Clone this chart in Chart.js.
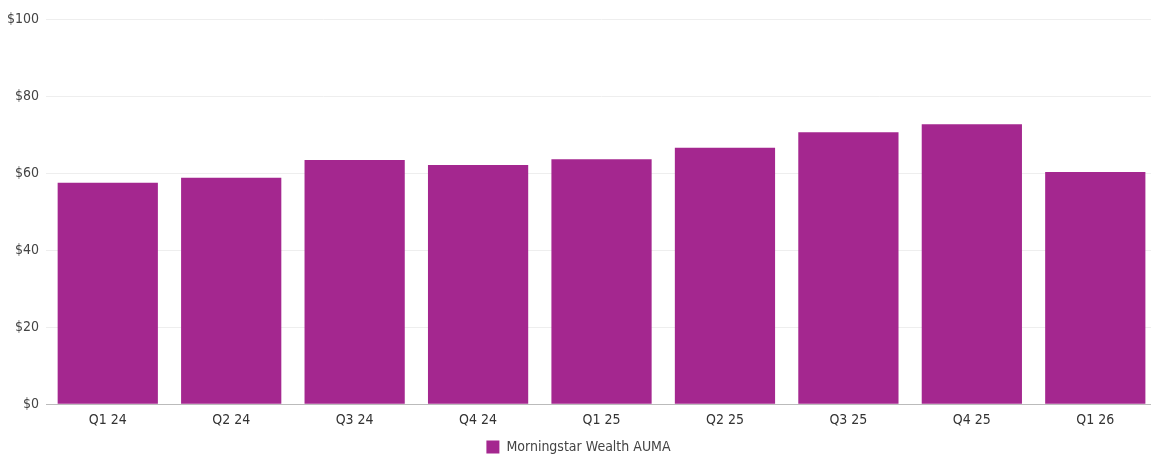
<!DOCTYPE html>
<html>
<head>
<meta charset="utf-8">
<script src="https://cdn.jsdelivr.net/npm/chart.js@4"></script>
<style>
  html, body { margin: 0; padding: 0; background: #fff; overflow: hidden; }
  .wrap { width: 1157px; height: 464px; }
</style>
</head>
<body>
<div class="wrap"><canvas id="barChart"></canvas></div>
<script>
// AUMA per quarter, $ billions
const quarters = ["Q1 24", "Q2 24", "Q3 24", "Q4 24", "Q1 25", "Q2 25", "Q3 25", "Q4 25", "Q1 26"];
const aumaValues = [57.5, 58.8, 63.4, 62.1, 63.6, 66.6, 70.6, 72.7, 60.3];
const yTicks = [0, 20, 40, 60, 80, 100];

const FONT = "'Liberation Sans Narrow', 'DejaVu Sans Condensed', 'Roboto', sans-serif";

new Chart(document.getElementById("barChart"), {
  type: "bar",
  data: {
    labels: quarters,
    datasets: [
      {
        label: "Morningstar Wealth AUMA",
        data: aumaValues,
        backgroundColor: "#a4278f",
        borderWidth: 0,
        barPercentage: 0.812,
        categoryPercentage: 1,
      },
    ],
  },
  options: {
    responsive: true,
    maintainAspectRatio: false,
    animation: false,
    layout: { padding: { top: 19, left: 0, right: 0, bottom: 0 } },
    plugins: {
      legend: {
        position: "bottom",
        labels: {
          boxWidth: 13,
          boxHeight: 13,
          padding: 3,
          color: "#444",
          font: { family: FONT, size: 14 },
        },
      },
      tooltip: { enabled: false },
    },
    scales: {
      x: {
        grid: { display: false, drawTicks: false },
        border: { display: true, color: "#bbb", width: 1 },
        ticks: {
          color: "#333",
          padding: 8,
          font: { family: FONT, size: 14 },
        },
      },
      y: {
        min: 0,
        max: 100,
        afterBuildTicks: (axis) => {
          axis.ticks = yTicks.map((v) => ({ value: v }));
        },
        grid: { color: "#eeeeee", drawTicks: false },
        border: { display: false },
        ticks: {
          color: "#444",
          padding: 7,
          font: { family: FONT, size: 14 },
          callback: (v) => "$" + v,
        },
      },
    },
  },
});
</script>
</body>
</html>
